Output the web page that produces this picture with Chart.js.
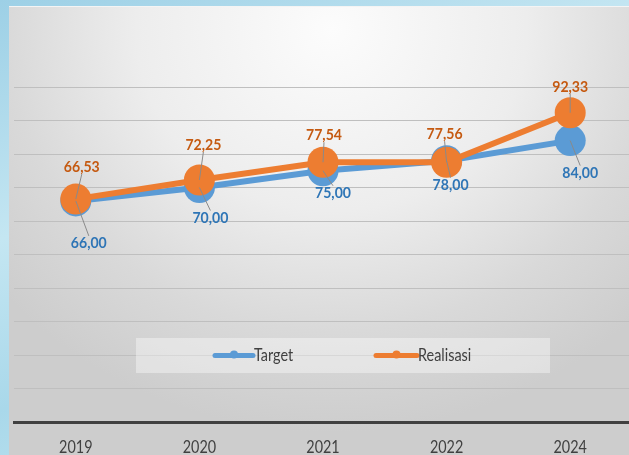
<!DOCTYPE html>
<html>
<head>
<meta charset="utf-8">
<script src="https://cdn.jsdelivr.net/npm/chart.js@4.4.1/dist/chart.umd.min.js"></script>
<style>
  body {
    margin: 0;
    width: 629px;
    height: 455px;
    overflow: hidden;
    position: relative;
    background: linear-gradient(160deg, #9dd0e6 0%, #c4e6f2 35%, #a9d8ea 60%, #d2eef6 100%);
  }
  #panel {
    position: absolute;
    left: 9px;
    top: 6px;
    right: 0;
    bottom: 0;
    border-top: 1px solid #f4f4f4;
    background: radial-gradient(ellipse 70% 90% at 52% 5%, #fcfcfc 0%, #ededed 45%, #d9d9d9 75%, #cdcdcd 100%);
  }
  #wrap {
    position: absolute;
    left: 0;
    top: 0;
    width: 632px;
    height: 455px;
  }
</style>
</head>
<body>
<div id="panel"></div>
<div id="wrap"><canvas id="myChart" width="632" height="455"></canvas></div>
<script>
const years = ['2019', '2020', '2021', '2022', '2024'];
const target = [66.00, 70.00, 75.00, 78.00, 84.00];
const realisasi = [66.53, 72.25, 77.54, 77.56, 92.33];

const FONT = 'Lato, "Open Sans", sans-serif';
const fmt = v => v.toFixed(2).replace('.', ',');

// the original uses a narrow font, so squeeze text horizontally
function narrowText(ctx, text, x, y, font, color, sx, align) {
    ctx.save();
    ctx.font = font;
    ctx.fillStyle = color;
    ctx.textAlign = align;
    ctx.textBaseline = 'middle';
    ctx.translate(x, y);
    ctx.scale(sx, 1);
    ctx.fillText(text, 0, 0);
    ctx.restore();
}

// year labels under the thick axis line
const yearLabels = {
    id: 'yearLabels',
    afterDraw(chart) {
        const xs = chart.scales.x;
        chart.data.labels.forEach((lab, i) => {
            narrowText(chart.ctx, lab, xs.getPixelForTick(i), chart.chartArea.bottom + 25,
                '18px ' + FONT, '#404040', 0.8, 'center');
        });
    }
};

// data labels with leader lines, moved by hand like in the original sheet
const pointLabels = {
    id: 'pointLabels',
    afterDatasetsDraw(chart, args, opts) {
        const ctx = chart.ctx;
        chart.data.datasets.forEach((ds, i) => {
            const meta = chart.getDatasetMeta(i);
            const offs = opts.offsets[i];
            meta.data.forEach((pt, j) => {
                const lx = pt.x + offs[j][0];
                const ly = pt.y + offs[j][1];
                const edge = ly + (offs[j][1] < 0 ? 7 : -7);
                ctx.save();
                ctx.strokeStyle = '#8a8a8a';
                ctx.lineWidth = 1;
                ctx.beginPath();
                ctx.moveTo(pt.x, pt.y);
                ctx.lineTo(lx, edge);
                ctx.stroke();
                ctx.restore();
                narrowText(ctx, fmt(ds.data[j]), lx, ly, 'bold 16px ' + FONT, opts.colors[i], 0.88, 'center');
            });
        });
    }
};

const boxLegend = {
    id: 'boxLegend',
    beforeDatasetsDraw(chart, args, opts) {
        const ctx = chart.ctx;
        ctx.save();
        ctx.fillStyle = 'rgba(255,255,255,0.38)';
        ctx.fillRect(opts.box[0], opts.box[1], opts.box[2], opts.box[3]);
        const y = opts.box[1] + opts.box[3] / 2;
        ctx.lineCap = 'round';
        opts.items.forEach((it, k) => {
            const ds = chart.data.datasets[k];
            ctx.strokeStyle = ds.borderColor;
            ctx.lineWidth = 5;
            ctx.beginPath();
            ctx.moveTo(it[0], y);
            ctx.lineTo(it[1], y);
            ctx.stroke();
            ctx.fillStyle = ds.borderColor;
            ctx.beginPath();
            ctx.arc((it[0] + it[1]) / 2, y - 1, 4, 0, Math.PI * 2);
            ctx.fill();
            narrowText(ctx, ds.label, it[1] + 1, y, '18px ' + FONT, '#404040', 0.8, 'left');
        });
        ctx.restore();
    }
};

new Chart('myChart', {
    type: 'line',
    data: {
        labels: years,
        datasets: [{
            label: 'Target',
            data: target,
            borderColor: '#5b9bd5',
            backgroundColor: '#5b9bd5',
            borderWidth: 6,
            pointRadius: 15.5,
            pointBorderWidth: 0,
            order: 1,
            clip: false
        }, {
            label: 'Realisasi',
            data: realisasi,
            borderColor: '#ed7d31',
            backgroundColor: '#ed7d31',
            borderWidth: 6,
            pointRadius: 15.5,
            pointBorderWidth: 0,
            order: 0,
            clip: false
        }]
    },
    options: {
        responsive: false,
        animation: false,
        devicePixelRatio: 1,
        layout: {
            autoPadding: false,
            padding: { top: 87, left: 14, right: 0, bottom: 33 }
        },
        plugins: {
            legend: { display: false },
            tooltip: { enabled: false },
            pointLabels: {
                colors: ['#2e75b6', '#c55a11'],
                offsets: [
                    [[13, 42], [11, 30], [10, 22], [4, 24], [10, 32]],
                    [[6, -32], [4, -35], [1, -27], [-2, -28], [0, -26]]
                ]
            },
            boxLegend: {
                box: [136, 338, 414, 35],
                items: [[215, 253], [376, 417]]
            }
        },
        scales: {
            x: {
                offset: true,
                grid: { display: false, drawTicks: false },
                border: { display: true, color: '#404040', width: 3 },
                ticks: { display: false }
            },
            y: {
                min: 0,
                max: 100,
                ticks: { display: false, stepSize: 10 },
                grid: { color: '#bfbfbf', lineWidth: 1, drawTicks: false },
                border: { display: false }
            }
        }
    },
    plugins: [boxLegend, pointLabels, yearLabels]
});
</script>
</body>
</html>
